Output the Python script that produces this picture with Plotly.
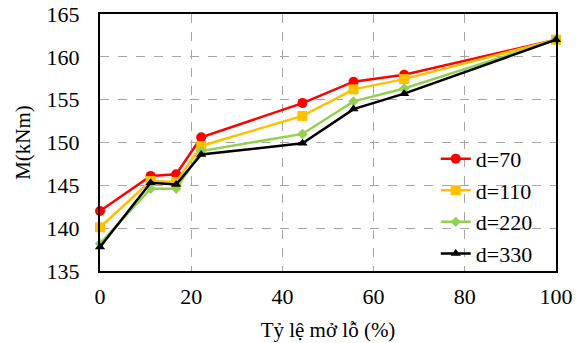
import plotly.graph_objects as go

x_vals = [0, 11.1, 16.7, 22.2, 44.4, 55.6, 66.7, 100]
series_names = ["d=70", "d=110", "d=220", "d=330"]
m_d70 = [142.0, 146.1, 146.3, 150.6, 154.6, 157.1, 157.9, 162.0]
m_d110 = [140.1, 145.5, 145.4, 149.6, 153.1, 156.2, 157.4, 162.0]
m_d220 = [138.2, 144.6, 144.6, 149.0, 151.0, 154.8, 156.3, 162.0]
m_d330 = [137.8, 145.3, 145.1, 148.6, 149.9, 153.9, 155.7, 162.0]
x_ticks = [0, 20, 40, 60, 80, 100]
y_ticks = [135, 140, 145, 150, 155, 160, 165]

styles = [
    dict(color="#FF0000", symbol="circle", size=10),
    dict(color="#FFC000", symbol="square", size=10),
    dict(color="#92D050", symbol="diamond", size=8),
    dict(color="#000000", symbol="triangle-up", size=9),
]

fig = go.Figure()
for name, ys, st in zip(series_names, [m_d70, m_d110, m_d220, m_d330], styles):
    fig.add_trace(go.Scatter(
        x=x_vals, y=ys, name=name, mode="lines+markers",
        line=dict(color=st["color"], width=2.5),
        marker=dict(color=st["color"], symbol=st["symbol"], size=st["size"]),
        cliponaxis=False,
    ))

font_family = "Liberation Serif"
fig.update_layout(
    width=580, height=343,
    margin=dict(l=100, r=24, t=14, b=72),
    paper_bgcolor="white", plot_bgcolor="white",
    font=dict(family=font_family, size=22, color="black"),
    showlegend=True,
    legend=dict(
        x=0.96, y=-0.015, xanchor="right", yanchor="bottom",
        bgcolor="rgba(0,0,0,0)", font=dict(size=22),
        tracegroupgap=0, itemwidth=30,
    ),
)
fig.update_xaxes(
    range=[0, 100], tickvals=x_ticks, ticktext=[str(v) for v in x_ticks],
    showgrid=True, gridcolor="#A6A6A6", griddash="dash", gridwidth=1.3,
    showline=True, linecolor="black", linewidth=2, mirror=True,
    zeroline=False, ticks="", ticklen=0, automargin=False,
    ticklabelstandoff=5,
    title=dict(text="Tỷ lệ mở lỗ (%)", font=dict(size=21), standoff=14),
    tickfont=dict(size=22),
)
fig.update_yaxes(
    range=[135, 165], tickvals=y_ticks, ticktext=[str(v) for v in y_ticks],
    showgrid=True, gridcolor="#A6A6A6", griddash="dash", gridwidth=1.3,
    showline=True, linecolor="black", linewidth=2, mirror=True,
    zeroline=False, ticks="", ticklen=0, automargin=False,
    ticklabelstandoff=14,
    title=dict(text="M(kNm)", font=dict(size=21), standoff=10),
    tickfont=dict(size=22),
)

fig.write_html(
    "out.html",
    config={"displayModeBar": False},
    post_script="document.body.style.margin='0';",
)
